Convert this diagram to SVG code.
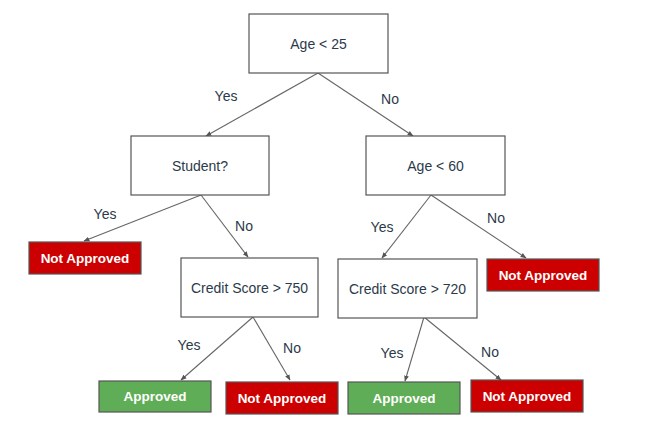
<svg xmlns="http://www.w3.org/2000/svg" width="646" height="441" viewBox="0 0 646 441">
  <style>
    .q rect { fill: #ffffff; stroke: #555555; stroke-width: 1.2; }
    .q text { font-family: "Liberation Sans", Arial, sans-serif; font-size: 14px; fill: #2b3a4a; text-anchor: middle; dominant-baseline: central; }
    .no rect { fill: #cc0000; stroke: #555555; stroke-width: 1.2; }
    .ok rect { fill: #5fad56; stroke: #555555; stroke-width: 1.2; }
    .no text, .ok text { font-family: "Liberation Sans", Arial, sans-serif; font-size: 13.5px; font-weight: bold; fill: #ffffff; text-anchor: middle; dominant-baseline: central; }
    .edge { stroke: #666666; stroke-width: 1.1; fill: none; marker-end: url(#arrow); }
    .lbl { font-family: "Liberation Sans", Arial, sans-serif; font-size: 14px; fill: #2b3a4a; text-anchor: middle; dominant-baseline: central; }
  </style>
  <defs>
    <marker id="arrow" viewBox="0 0 10 10" refX="9" refY="5" markerWidth="6" markerHeight="6" orient="auto" markerUnits="userSpaceOnUse">
      <path d="M0,1 L10,5 L0,9 z" fill="#555555"/>
    </marker>
  </defs>
  <rect width="646" height="441" fill="#ffffff"/>

  <g id="connectors">
    <line class="edge" x1="318" y1="73" x2="206" y2="136"/>
    <line class="edge" x1="318" y1="73" x2="413" y2="136"/>
    <line class="edge" x1="201" y1="195" x2="84" y2="241"/>
    <line class="edge" x1="201" y1="195" x2="248" y2="257"/>
    <line class="edge" x1="431" y1="195" x2="382" y2="258"/>
    <line class="edge" x1="431" y1="195" x2="526" y2="258"/>
    <line class="edge" x1="253" y1="317" x2="181" y2="380"/>
    <line class="edge" x1="253" y1="317" x2="290" y2="380"/>
    <line class="edge" x1="424" y1="317" x2="405" y2="381"/>
    <line class="edge" x1="424" y1="317" x2="501" y2="380"/>
    <text class="lbl" x="226" y="96">Yes</text>
    <text class="lbl" x="390" y="99">No</text>
    <text class="lbl" x="105" y="214">Yes</text>
    <text class="lbl" x="244" y="226">No</text>
    <text class="lbl" x="382" y="227">Yes</text>
    <text class="lbl" x="496" y="218">No</text>
    <text class="lbl" x="189" y="345">Yes</text>
    <text class="lbl" x="292" y="348">No</text>
    <text class="lbl" x="392" y="353">Yes</text>
    <text class="lbl" x="490" y="352">No</text>
  </g>

  <g id="age25" class="q"><rect x="249" y="14" width="139" height="59"/><text x="318.5" y="44">Age &lt; 25</text></g>
  <g id="student" class="q"><rect x="131" y="136" width="138" height="59"/><text x="200" y="166">Student?</text></g>
  <g id="age60" class="q"><rect x="366" y="136" width="139" height="59"/><text x="435.5" y="166">Age &lt; 60</text></g>
  <g id="credit750" class="q"><rect x="181" y="258" width="137" height="59"/><text x="249.5" y="288">Credit Score &gt; 750</text></g>
  <g id="credit720" class="q"><rect x="338" y="259" width="139" height="59"/><text x="407.5" y="289">Credit Score &gt; 720</text></g>

  <g id="reject-student" class="no"><rect x="29" y="242" width="112" height="32"/><text x="85" y="258">Not Approved</text></g>
  <g id="reject-age60" class="no"><rect x="487" y="259" width="112" height="32"/><text x="543" y="275">Not Approved</text></g>
  <g id="approve-750" class="ok"><rect x="99" y="381" width="112" height="31"/><text x="155" y="396.5">Approved</text></g>
  <g id="reject-750" class="no"><rect x="226" y="382" width="112" height="32"/><text x="282" y="398">Not Approved</text></g>
  <g id="approve-720" class="ok"><rect x="348" y="382" width="112" height="32"/><text x="404" y="398">Approved</text></g>
  <g id="reject-720" class="no"><rect x="471" y="380" width="112" height="32"/><text x="527" y="396">Not Approved</text></g>
</svg>
